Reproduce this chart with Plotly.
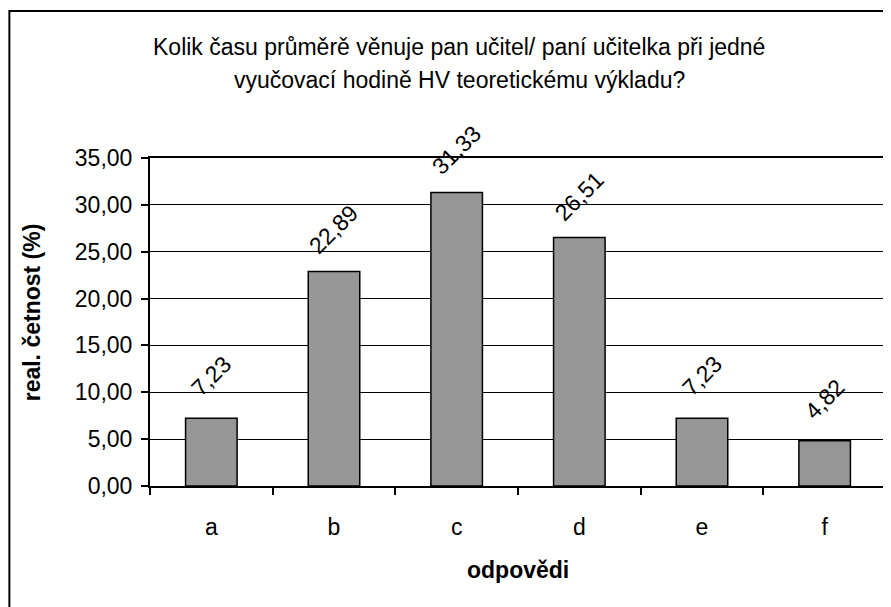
import plotly.graph_objects as go

categories = ["a", "b", "c", "d", "e", "f"]
values = [7.23, 22.89, 31.33, 26.51, 7.23, 4.82]
y_ticks = [0, 5, 10, 15, 20, 25, 30, 35]
y_tick_labels = ["0,00", "5,00", "10,00", "15,00", "20,00", "25,00", "30,00", "35,00"]
title_lines = ["Kolik času průměrě věnuje pan učitel/ paní učitelka při jedné",
               "vyučovací hodině HV teoretickému výkladu?"]
x_title = "odpovědi"
y_title = "real. četnost (%)"

FONT = "Liberation Sans, Arial, sans-serif"
FS = 23
OFF = 8  # browser default body margin
W, H = 891 - OFF, 607 - OFF
# desired screen positions of plot area
SL, SR, ST, SB = 150, 888, 158, 486
L, T = SL - OFF, ST - OFF
R = W - (SR - OFF)
B = H - (SB - OFF)
pw = W - L - R
ph = H - T - B

def px_x(p):
    return (p - OFF - L) / pw

def px_y(p):
    return (H - B - (p - OFF)) / ph

fig = go.Figure()
fig.add_trace(go.Bar(
    x=categories, y=values,
    marker=dict(color="#969696", line=dict(color="black", width=1.5)),
    width=0.42,
))

for c, v in zip(categories, values):
    fig.add_annotation(
        x=c, y=v, xref="x", yref="y",
        text=f"{v:.2f}".replace(".", ","),
        textangle=-45, showarrow=False,
        xanchor="center", yanchor="middle", yshift=42,
        font=dict(family=FONT, size=FS, color="black"),
    )

fig.add_annotation(
    x=px_x(460), y=px_y(47), xref="paper", yref="paper",
    text=title_lines[0], showarrow=False, xanchor="center", yanchor="middle",
    font=dict(family=FONT, size=FS, color="black"),
)
fig.add_annotation(
    x=px_x(460), y=px_y(80), xref="paper", yref="paper",
    text=title_lines[1], showarrow=False, xanchor="center", yanchor="middle",
    font=dict(family=FONT, size=FS, color="black"),
)
fig.add_annotation(
    x=px_x(519), y=px_y(570), xref="paper", yref="paper",
    text=f"<b>{x_title}</b>", showarrow=False, xanchor="center", yanchor="middle",
    font=dict(family=FONT, size=FS, color="black"),
)
fig.add_annotation(
    x=px_x(32), y=px_y(312), xref="paper", yref="paper",
    text=f"<b>{y_title}</b>", showarrow=False, textangle=-90,
    xanchor="center", yanchor="middle",
    font=dict(family=FONT, size=FS, color="black"),
)

# outer chart border
fig.add_shape(type="rect", xref="paper", yref="paper",
              x0=px_x(9), x1=px_x(920), y0=px_y(640), y1=px_y(11),
              line=dict(color="black", width=2), layer="below")

fig.update_layout(
    width=W, height=H,
    margin=dict(l=L, r=R, t=T, b=B),
    paper_bgcolor="white", plot_bgcolor="white",
    showlegend=False,
    font=dict(family=FONT, size=FS, color="black"),
    xaxis=dict(
        type="category", tickson="boundaries", ticks="outside", ticklen=7,
        tickwidth=1.5, tickcolor="black", ticklabelstandoff=19,
        showline=True, linecolor="black", linewidth=2, mirror=True,
        showgrid=False, tickfont=dict(family=FONT, size=FS),
    ),
    yaxis=dict(
        range=[0, 35], tickvals=y_ticks, ticktext=y_tick_labels,
        ticks="outside", ticklen=7, tickwidth=1.5, tickcolor="black",
        ticklabelstandoff=4,
        showline=True, linecolor="black", linewidth=2, mirror=True,
        showgrid=True, gridcolor="black", gridwidth=1,
        zeroline=False, tickfont=dict(family=FONT, size=FS),
    ),
)

fig.write_html("out.html")
